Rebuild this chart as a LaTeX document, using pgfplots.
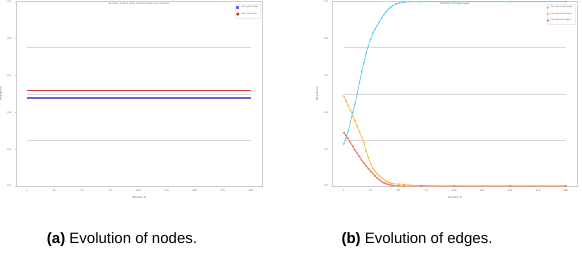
\documentclass[border=0pt]{standalone}
\usepackage{fontspec}
\setmainfont{Liberation Sans}
\newfontfamily\mpl{DejaVu Sans}
\usepackage{pgfplots}
\pgfplotsset{compat=1.18}
\definecolor{cblue}{HTML}{6A62D0}
\definecolor{cred}{HTML}{D6403A}
\definecolor{ccyan}{HTML}{62CDEA}
\definecolor{corange}{HTML}{F5BC4A}
\definecolor{csalmon}{HTML}{F26A5A}
\definecolor{cgrid}{HTML}{D8D8D8}
\definecolor{cframe}{HTML}{CCCCCC}
\pgfplotsset{
  mystyle/.style={
    scale only axis, height=184.3pt,
    xmin=-8.95, xmax=209.95, ymin=0, ymax=1,
    xtick={1,25,50,75,100,125,150,175,200},
    ytick={0,0.2,0.4,0.6,0.8,1.0},
    axis line style={cframe, line width=0.8pt},
    tick style={cframe, line width=0.3pt},
    major tick length=1.2pt,
    tick pos=left,
    tick align=outside,
    /pgf/number format/assume math mode=true,
    tick label style={font=\mpl\fontsize{2.4}{3}\selectfont, text=gray!70!black},
    yticklabel style={/pgf/number format/fixed, /pgf/number format/fixed zerofill, /pgf/number format/precision=1},
    xticklabel style={yshift=0.6pt},
    label style={font=\mpl\fontsize{2.6}{3}\selectfont, text=gray!70!black},
    xlabel={Iteration \#},
    ylabel={Proportion},
    xlabel style={yshift=2.2pt},
    ylabel style={yshift=-1.5pt},
    legend style={font=\mpl\fontsize{2}{2.4}\selectfont, draw=gray!15, fill=white, at={(0.995,0.99)}, anchor=north east, inner sep=0.4pt, row sep=-0.6pt, text=gray!70!black},
    legend cell align=left,
    legend image code/.code={\draw[#1, mark size=0.7pt] plot coordinates {(0.08cm,0cm)};},
    clip=false,
  }
}
\begin{document}
\begin{tikzpicture}
\path[use as bounding box] (0,0) rectangle (582pt,255pt);
\begin{axis}[mystyle, width=246pt, at={(16pt,69pt)}, anchor=south west]
\addplot[cgrid, line width=0.6pt, forget plot] coordinates {(1,0.25) (200,0.25)};
\addplot[cgrid, line width=0.6pt, forget plot] coordinates {(1,0.50) (200,0.50)};
\addplot[cgrid, line width=0.6pt, forget plot] coordinates {(1,0.75) (200,0.75)};
\addplot[cblue, line width=1.8pt, no markers, legend image code/.code={\fill[cblue] (0.04cm,-0.7pt) rectangle ++(1.4pt,1.4pt);}] coordinates {(1,0.477) (200,0.477)};
\addlegendentry{ratio good nodes}
\addplot[cred, line width=1.6pt, no markers, legend image code/.code={\fill[cred] (0.08cm,0pt) circle (0.7pt);}] coordinates {(1,0.519) (200,0.519)};
\addlegendentry{ratio bad nodes}
\node[font=\mpl\fontsize{2.2}{2.6}\selectfont, text=gray!70!black, anchor=north, inner sep=0.2pt, yshift=-0.6pt] at (rel axis cs:0.5,1) {Evolution of good nodes and bad nodes over iterations};
\end{axis}
\begin{axis}[mystyle, width=244.3pt, at={(332.7pt,69pt)}, anchor=south west]
\addplot[cgrid, line width=0.6pt, forget plot] coordinates {(1,0.25) (200,0.25)};
\addplot[cgrid, line width=0.6pt, forget plot] coordinates {(1,0.50) (200,0.50)};
\addplot[cgrid, line width=0.6pt, forget plot] coordinates {(1,0.75) (200,0.75)};
\addplot[ccyan, line width=0.7pt, mark=*, mark size=0.45pt] coordinates {
(1,0.228) (3,0.26) (5,0.30) (7,0.35) (9,0.40) (11,0.445) (13,0.50) (15,0.56) (17,0.62) (19,0.67)
(21,0.72) (23,0.76) (25,0.795) (27,0.83) (29,0.852) (31,0.872) (33,0.892) (35,0.912) (37,0.93) (39,0.946)
(41,0.96) (43,0.97) (45,0.979) (48,0.988) (51,0.993) (55,0.997) (60,1.0) (70,1.0) (80,1.0) (100,1.0) (150,1.0) (200,1.0)};
\addlegendentry{ratio good-good edges}
\addplot[corange, line width=0.7pt, mark=*, mark size=0.45pt] coordinates {
(1,0.488) (3,0.46) (5,0.435) (7,0.41) (9,0.38) (11,0.355) (13,0.325) (15,0.295) (17,0.265) (19,0.235)
(21,0.19) (23,0.155) (25,0.12) (27,0.096) (29,0.08) (31,0.066) (33,0.054) (35,0.045) (37,0.035) (39,0.025)
(41,0.02) (43,0.016) (45,0.013) (50,0.01) (55,0.008) (60,0.005) (70,0.003) (78,0.001) (85,0) (100,0) (150,0) (200,0)};
\addlegendentry{ratio good-bad edges}
\addplot[csalmon, line width=0.7pt, mark=*, mark size=0.45pt] coordinates {
(1,0.289) (3,0.275) (5,0.258) (7,0.235) (9,0.215) (11,0.195) (13,0.178) (15,0.16) (17,0.14) (19,0.125)
(21,0.108) (23,0.094) (25,0.08) (27,0.068) (29,0.055) (31,0.043) (33,0.033) (35,0.024) (37,0.017) (39,0.012)
(41,0.008) (43,0.005) (45,0.003) (50,0.001) (55,0) (70,0) (100,0) (150,0) (200,0)};
\addlegendentry{ratio bad-bad edges}
\node[font=\mpl\fontsize{2.4}{2.8}\selectfont, text=gray!70!black, anchor=north, inner sep=0.2pt, yshift=-0.6pt] at (rel axis cs:0.5,1) {Evolution of edges types};
\end{axis}
\node[font=\fontsize{15}{17}\selectfont] at (122pt,15pt) {\textbf{(a)} Evolution of nodes.};
\node[font=\fontsize{15}{17}\selectfont] at (417pt,15pt) {\textbf{(b)} Evolution of edges.};
\end{tikzpicture}
\end{document}
